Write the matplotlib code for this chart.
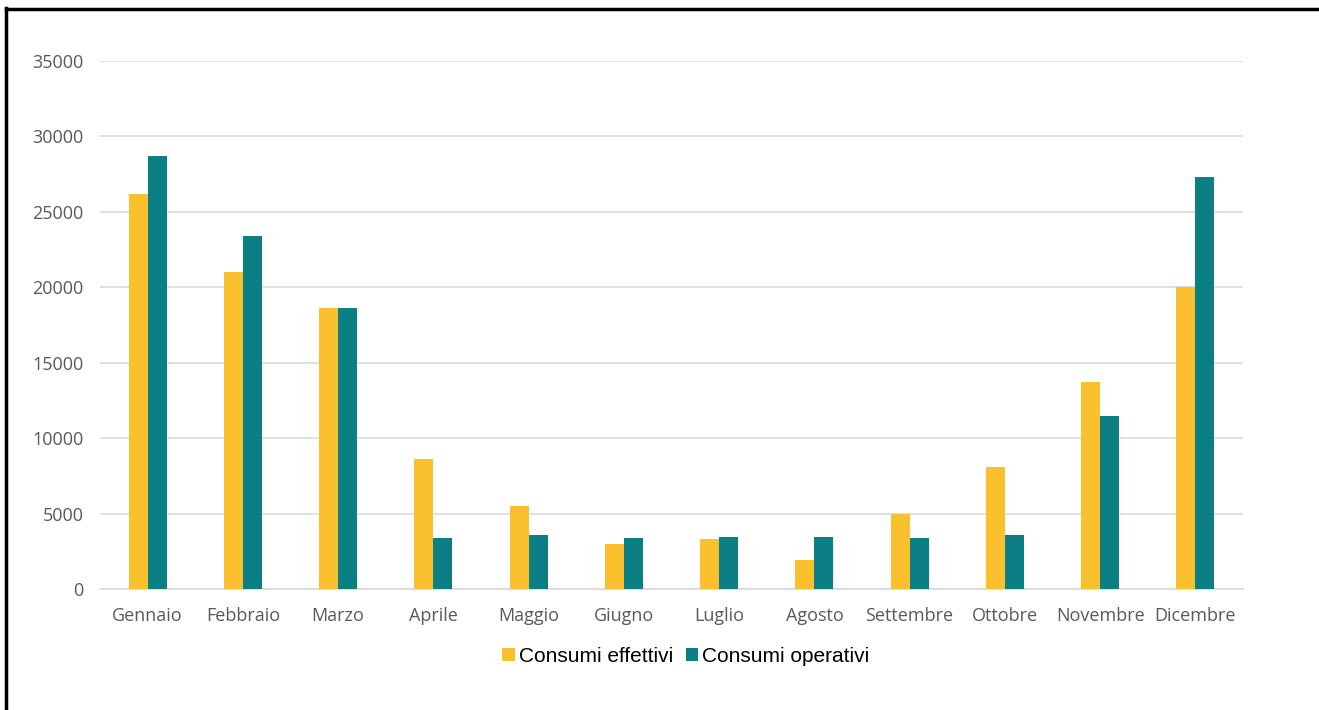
import numpy as np
import matplotlib.pyplot as plt
from matplotlib.lines import Line2D

months = ["Gennaio", "Febbraio", "Marzo", "Aprile", "Maggio", "Giugno",
          "Luglio", "Agosto", "Settembre", "Ottobre", "Novembre", "Dicembre"]
effettivi = [26200, 21000, 18600, 8600, 5500, 3000, 3300, 1900, 5000, 8100, 13700, 20000]
operativi = [28700, 23400, 18650, 3400, 3550, 3400, 3450, 3450, 3400, 3550, 11500, 27300]
series_names = ["Consumi effettivi", "Consumi operativi"]

YELLOW = "#FBC02D"
TEAL = "#0B7F83"

fig = plt.figure(figsize=(13.19, 7.10), dpi=100)
ax = fig.add_axes([100 / 1319, 1 - 589 / 710, 1143 / 1319, 528 / 710])

x = np.arange(len(months))
width = 0.2
ax.bar(x - width / 2, effettivi, width, color=YELLOW, label=series_names[0], zorder=3)
ax.bar(x + width / 2, operativi, width, color=TEAL, label=series_names[1], zorder=3)

ax.set_xlim(-0.5, len(months) - 0.5)
ax.set_ylim(0, 35000)
ax.set_yticks(range(0, 35001, 5000))
ax.set_xticks(x)
ax.set_xticklabels(months)
ax.grid(True, axis="y", color="#D9D9D9", linewidth=1.2, zorder=0)
for s in ["top", "right", "left"]:
    ax.spines[s].set_visible(False)
ax.spines["bottom"].set_color("#D9D9D9")
ax.spines["bottom"].set_linewidth(1.2)
ax.tick_params(axis="both", length=0, labelsize=13, labelcolor="#595959",
               labelfontfamily="Open Sans")
ax.tick_params(axis="y", pad=12)
ax.tick_params(axis="x", pad=13)

ax.legend(loc="center", bbox_to_anchor=(686 / 1319, 1 - 656 / 710),
          bbox_transform=fig.transFigure, ncol=2, frameon=False,
          prop={"family": "Liberation Sans", "size": 15},
          handlelength=0.6, handleheight=0.6, handletextpad=0.2, columnspacing=0.6)

# frame lines (cropped border)
fig.add_artist(Line2D([6 / 1319, 6 / 1319], [0, 1 - 8 / 710], color="black",
                      linewidth=2.5, transform=fig.transFigure))
fig.add_artist(Line2D([6 / 1319, 1], [1 - 9 / 710, 1 - 9 / 710], color="black",
                      linewidth=2.5, transform=fig.transFigure))

plt.savefig("out.png", dpi=100)
plt.close()
